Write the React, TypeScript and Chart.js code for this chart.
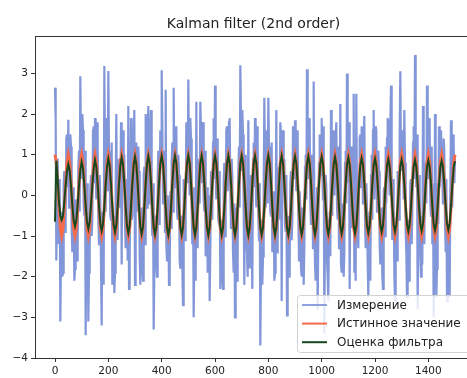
import React, { useEffect, useRef } from "react";
import { Chart, registerables } from "chart.js";

Chart.register(...registerables);

const TITLE = "Kalman filter (2nd order)";
const LEGEND_LABELS = ["Измерение", "Истинное значение", "Оценка фильтра"];
const X_TICKS = [0, 200, 400, 600, 800, 1000, 1200, 1400];
const Y_TICKS = [-4, -3, -2, -1, 0, 1, 2, 3];
const X_MIN = -75;
const X_MAX = 1545;
const Y_MIN = -4;
const Y_MAX = 3.92;
const MEAS_STEP = 2.5; // sample spacing of the measurement along x
const STEP = 5; // sample spacing of true value / estimate along x

// one row per period (50 x-units)
const MEASUREMENT = [
  2.65, 1.9, -1.6, 0.1, 0.9, -1.2, -0.6, 0.4, -3.1, -1.5, -0.4, -2.0, -1.9, 0.3, 0.6, -0.9, -0.5, 1.4, 1.5, 0.2,
  1.86, -0.3, 0.2, 1.5, 1.2, -0.8, -1.4, 0.2, -0.3, -2.1, -1.8, -0.1, -0.2, -1.6, -1.3, 0.7, 1.1, -0.4, 2.93, 1.2,
  0.4, 2.0, 1.6, -0.2, -0.5, 1.1, -3.44, -1.3, 0.3, -0.4, -3.1, -1.9, -1.4, 0.2, 0.5, -1.0, -0.6, 1.6, 1.7, 0.3,
  1.9, 0.6, -0.1, 1.8, 1.3, -0.6, -1.2, 0.5, -0.2, -1.7, -3.2, -0.4, -1.5, -2.2, 3.18, 1.0, -0.4, 1.9, 1.2, 0.1,
  3.06, 1.1, 0.4, -0.5, -0.6, 1.3, -2.2, -1.1, -0.5, -2.4, -1.9, 0.1, 2.0, -0.8, -1.1, 0.6, 0.9, -0.3, -0.2, 1.8,
  -1.7, 1.4, 1.6, 0.3, 1.0, -0.7, -1.3, 0.4, -0.2, -1.6, 2.2, -2.3, -1.6, 0.2, 1.9, -0.6, -0.5, 1.5, 1.4, 2.1,
  -2.2, 0.9, 1.3, -0.4, -0.4, 1.2, 0.6, -1.5, -2.2, -0.3, -1.1, -1.8, -2.1, 0.5, 0.7, -1.2, 2.0, 0.4, -0.3, 1.7,
  2.2, -0.2, 0.1, 1.6, 2.1, -0.5, -1.0, 0.3, -3.3, -1.9, -0.5, -0.6, -1.7, -2.0, 0.4, 1.1, -0.7, 0.2, 1.6, 1.2,
  3.08, 1.7, -0.2, 0.5, 1.1, -0.9, 2.6, -1.2, -1.6, 0.0, -0.3, -2.2, -2.0, 0.1, -0.8, 0.8, 1.3, -0.4, 2.65, 0.6,
  0.2, 1.5, 1.7, -0.4, -0.6, 1.0, 0.5, -1.6, -1.8, -0.5, -0.7, -1.7, -2.7, 0.4, 0.3, -1.1, -0.4, 1.8, 1.5, 0.3,
  2.85, 0.7, 0.0, 1.9, 1.4, -0.3, -1.2, 0.2, -3.0, -1.4, -0.4, -2.1, 2.3, -0.6, -1.3, 0.5, 0.9, -0.2, 2.3, 1.6,
  0.3, 1.6, 1.8, -0.1, -0.4, 1.1, -1.5, -0.8, 0.2, -1.9, -1.7, 0.0, -2.6, -1.3, 0.6, -0.5, -0.6, 1.3, 1.9, 0.4,
  2.7, 0.5, -0.1, 1.4, 1.2, -0.6, -0.7, 0.6, -2.3, -1.2, -0.6, -2.0, -2.3, 0.3, 0.8, -1.0, -0.2, 1.6, 1.7, 0.1,
  0.5, 1.8, 1.9, 0.2, -0.8, 0.9, 0.4, -1.4, -1.9, -0.2, -3.0, -1.6, -0.3, -2.1, -1.4, 0.6, 1.2, -0.3, 3.2, 1.9,
  0.6, 2.1, 1.5, -0.3, -2.2, 1.0, -0.2, -1.1, -1.4, -2.0, 1.85, -0.7, -1.8, 0.2, 0.5, -1.2, -2.3, 0.9, 1.3, 0.2,
  1.9, 0.4, -0.3, 1.7, 1.0, -0.5, -1.1, 0.3, -3.69, -1.6, -0.6, -2.2, -1.5, 0.1, 2.4, 0.9, -0.3, 1.2, 1.6, -0.2,
  2.4, 1.2, 0.6, -0.4, -0.5, 1.3, -1.4, -0.9, 0.1, -2.1, -1.9, -0.5, 2.1, -1.4, -1.2, 0.4, 0.7, -0.6, 1.8, 1.5,
  -2.6, 1.0, 1.6, 0.2, 0.9, -0.7, -0.9, 0.5, -2.95, -1.5, -0.5, -2.0, -1.8, 0.3, 0.6, -1.1, -0.6, 1.7, 1.3, 0.4,
  1.85, 0.8, 0.1, 1.6, 1.3, -0.4, -1.6, 0.1, -0.3, -1.8, -2.0, -0.3, -0.9, -2.2, -1.3, 0.7, 1.0, -0.1, 3.1, 1.4,
  0.4, 1.9, 1.7, -0.2, -0.7, 1.0, 0.3, -1.3, 2.8, -0.4, -1.7, -2.1, -0.6, 0.2, -2.8, -0.9, 0.8, 1.5, 1.4, 0.5,
  1.9, 0.6, -0.1, 1.7, -3.4, -0.8, 0.5, 0.2, -1.6, -2.0, -2.6, -0.6, -0.4, -1.5, 2.1, 0.4, -0.5, 1.3, 1.6, 0.0,
  0.6, 1.4, 1.8, -0.3, -0.6, 1.2, -1.3, -0.4, 2.25, -1.7, -1.9, -0.2, -0.5, -2.0, -1.4, 0.8, 1.1, -0.2, 3.0, 1.7,
  0.3, 1.8, -2.3, 0.4, 1.2, -0.5, -0.8, 0.6, 2.5, -1.9, -1.4, -2.1, 2.5, -0.4, -0.9, -1.3, 0.4, 1.4, 1.5, 0.2,
  1.7, 0.9, -0.2, 1.5, 1.95, -0.6, -1.3, 0.3, -0.4, -1.6, -2.5, -0.5, -1.2, -2.1, 0.5, 1.0, -0.6, 1.6, 2.1, -0.1,
  0.5, 1.7, 1.6, -0.4, -0.3, 1.1, 0.6, -1.2, -1.7, -0.3, -0.6, -2.0, -2.3, 0.1, 0.2, -1.0, 1.2, -0.2, 1.4, 1.9,
  1.8, 0.7, 0.0, 1.8, 2.7, -0.2, -1.1, 0.4, -0.2, -1.9, -2.6, -0.7, -1.1, -1.6, 0.6, -0.3, -0.6, 1.5, 3.05, 0.8,
  0.6, 1.6, 1.4, -0.1, 2.1, 0.8, -0.9, -1.4, -2.5, -0.6, -0.7, -2.1, -1.8, 0.3, 0.4, -1.2, -0.4, 1.3, 1.7, 0.4,
  3.45, 1.1, 0.2, 1.5, -2.8, -0.5, 0.5, 0.0, -1.5, -2.0, -0.5, -1.7, 2.2, -0.6, -1.2, 0.6, 0.8, -0.2, 2.7, 1.2,
  0.4, 1.9, 1.7, -0.2, -0.5, 1.2, -1.2, 0.3, -3.0, -1.4, 2.0, -0.9, -2.5, -1.8, 0.3, -0.7, 1.7, 0.2, 0.9, 1.6,
  1.6, 0.5, -0.2, 1.4, 1.1, -0.6, -1.4, 0.4, -2.6, -1.5, -0.8, -2.0, -2.5, 0.1, 1.85, 0.9, -0.3, 1.5, 1.3, 0.3,
  0.9,
];

const TRUE_VALUE = [
  1, 0.81, 0.31, -0.31, -0.81, -1, -0.81, -0.31, 0.31, 0.81,
  1, 0.81, 0.31, -0.31, -0.81, -1, -0.81, -0.31, 0.31, 0.81,
  1, 0.81, 0.31, -0.31, -0.81, -1, -0.81, -0.31, 0.31, 0.81,
  1, 0.81, 0.31, -0.31, -0.81, -1, -0.81, -0.31, 0.31, 0.81,
  1, 0.81, 0.31, -0.31, -0.81, -1, -0.81, -0.31, 0.31, 0.81,
  1, 0.81, 0.31, -0.31, -0.81, -1, -0.81, -0.31, 0.31, 0.81,
  1, 0.81, 0.31, -0.31, -0.81, -1, -0.81, -0.31, 0.31, 0.81,
  1, 0.81, 0.31, -0.31, -0.81, -1, -0.81, -0.31, 0.31, 0.81,
  1, 0.81, 0.31, -0.31, -0.81, -1, -0.81, -0.31, 0.31, 0.81,
  1, 0.81, 0.31, -0.31, -0.81, -1, -0.81, -0.31, 0.31, 0.81,
  1, 0.81, 0.31, -0.31, -0.81, -1, -0.81, -0.31, 0.31, 0.81,
  1, 0.81, 0.31, -0.31, -0.81, -1, -0.81, -0.31, 0.31, 0.81,
  1, 0.81, 0.31, -0.31, -0.81, -1, -0.81, -0.31, 0.31, 0.81,
  1, 0.81, 0.31, -0.31, -0.81, -1, -0.81, -0.31, 0.31, 0.81,
  1, 0.81, 0.31, -0.31, -0.81, -1, -0.81, -0.31, 0.31, 0.81,
  1, 0.81, 0.31, -0.31, -0.81, -1, -0.81, -0.31, 0.31, 0.81,
  1, 0.81, 0.31, -0.31, -0.81, -1, -0.81, -0.31, 0.31, 0.81,
  1, 0.81, 0.31, -0.31, -0.81, -1, -0.81, -0.31, 0.31, 0.81,
  1, 0.81, 0.31, -0.31, -0.81, -1, -0.81, -0.31, 0.31, 0.81,
  1, 0.81, 0.31, -0.31, -0.81, -1, -0.81, -0.31, 0.31, 0.81,
  1, 0.81, 0.31, -0.31, -0.81, -1, -0.81, -0.31, 0.31, 0.81,
  1, 0.81, 0.31, -0.31, -0.81, -1, -0.81, -0.31, 0.31, 0.81,
  1, 0.81, 0.31, -0.31, -0.81, -1, -0.81, -0.31, 0.31, 0.81,
  1, 0.81, 0.31, -0.31, -0.81, -1, -0.81, -0.31, 0.31, 0.81,
  1, 0.81, 0.31, -0.31, -0.81, -1, -0.81, -0.31, 0.31, 0.81,
  1, 0.81, 0.31, -0.31, -0.81, -1, -0.81, -0.31, 0.31, 0.81,
  1, 0.81, 0.31, -0.31, -0.81, -1, -0.81, -0.31, 0.31, 0.81,
  1, 0.81, 0.31, -0.31, -0.81, -1, -0.81, -0.31, 0.31, 0.81,
  1, 0.81, 0.31, -0.31, -0.81, -1, -0.81, -0.31, 0.31, 0.81,
  1, 0.81, 0.31, -0.31, -0.81, -1, -0.81, -0.31, 0.31, 0.81,
  1,
];

const ESTIMATE = [
  -0.65, 0.85, 0.4, -0.15, -0.5, -0.6, -0.5, -0.15, 0.25, 0.6,
  0.76, 0.62, 0.24, -0.24, -0.62, -0.76, -0.62, -0.24, 0.24, 0.62,
  0.82, 0.66, 0.25, -0.25, -0.66, -0.82, -0.66, -0.25, 0.25, 0.66,
  0.87, 0.7, 0.27, -0.27, -0.7, -0.87, -0.7, -0.27, 0.27, 0.7,
  0.9, 0.73, 0.28, -0.28, -0.73, -0.9, -0.73, -0.28, 0.28, 0.73,
  0.93, 0.75, 0.29, -0.29, -0.75, -0.93, -0.75, -0.29, 0.29, 0.75,
  0.95, 0.77, 0.29, -0.29, -0.77, -0.95, -0.77, -0.29, 0.29, 0.77,
  0.96, 0.78, 0.3, -0.3, -0.78, -0.96, -0.78, -0.3, 0.3, 0.78,
  0.97, 0.79, 0.3, -0.3, -0.79, -0.97, -0.79, -0.3, 0.3, 0.79,
  0.97, 0.79, 0.3, -0.3, -0.79, -0.97, -0.79, -0.3, 0.3, 0.79,
  0.98, 0.79, 0.3, -0.3, -0.79, -0.98, -0.79, -0.3, 0.3, 0.79,
  0.98, 0.79, 0.3, -0.3, -0.79, -0.98, -0.79, -0.3, 0.3, 0.79,
  0.97, 0.79, 0.3, -0.3, -0.79, -0.97, -0.79, -0.3, 0.3, 0.79,
  0.98, 0.79, 0.3, -0.3, -0.79, -0.98, -0.79, -0.3, 0.3, 0.79,
  0.98, 0.79, 0.3, -0.3, -0.79, -0.98, -0.79, -0.3, 0.3, 0.79,
  0.97, 0.79, 0.3, -0.3, -0.79, -0.97, -0.79, -0.3, 0.3, 0.79,
  0.98, 0.79, 0.3, -0.3, -0.79, -0.98, -0.79, -0.3, 0.3, 0.79,
  0.97, 0.79, 0.3, -0.3, -0.79, -0.97, -0.79, -0.3, 0.3, 0.79,
  0.96, 0.78, 0.3, -0.3, -0.78, -0.96, -0.78, -0.3, 0.3, 0.78,
  0.96, 0.78, 0.3, -0.3, -0.78, -0.96, -0.78, -0.3, 0.3, 0.78,
  0.95, 0.77, 0.29, -0.29, -0.77, -0.95, -0.77, -0.29, 0.29, 0.77,
  0.94, 0.76, 0.29, -0.29, -0.76, -0.94, -0.76, -0.29, 0.29, 0.76,
  0.93, 0.75, 0.29, -0.29, -0.75, -0.93, -0.75, -0.29, 0.29, 0.75,
  0.92, 0.75, 0.29, -0.29, -0.75, -0.92, -0.75, -0.29, 0.29, 0.75,
  0.9, 0.73, 0.28, -0.28, -0.73, -0.9, -0.73, -0.28, 0.28, 0.73,
  0.89, 0.72, 0.28, -0.28, -0.72, -0.89, -0.72, -0.28, 0.28, 0.72,
  0.88, 0.71, 0.27, -0.27, -0.71, -0.88, -0.71, -0.27, 0.27, 0.71,
  0.87, 0.7, 0.27, -0.27, -0.7, -0.87, -0.7, -0.27, 0.27, 0.7,
  0.86, 0.7, 0.27, -0.27, -0.7, -0.86, -0.7, -0.27, 0.27, 0.7,
  0.85, 0.69, 0.26, -0.26, -0.69, -0.85, -0.69, -0.26, 0.26, 0.69,
  0.84,
];

const COLOR_MEAS = "rgb(130,150,218)";
const COLOR_TRUE = "rgb(244,106,74)";
const COLOR_EST = "rgb(22,72,32)";
const FONT = '"DejaVu Sans", "Noto Sans", sans-serif';

const fmt = (v: number) => (v < 0 ? "\u2212" + Math.abs(v) : String(v));
const toPoints = (arr: number[], step: number) => arr.map((y, i) => ({ x: i * step, y }));

const framePlugin = {
  id: "frameTop",
  afterDatasetsDraw(chart: any) {
    const { ctx, chartArea } = chart;
    ctx.save();
    ctx.strokeStyle = "#333";
    ctx.lineWidth = 1;
    ctx.beginPath();
    ctx.moveTo(chartArea.left, Math.round(chartArea.top) + 0.5);
    ctx.lineTo(chartArea.right, Math.round(chartArea.top) + 0.5);
    ctx.stroke();
    ctx.restore();
  },
};

const titlePlugin = {
  id: "mplTitle",
  afterDraw(chart: any) {
    const { ctx } = chart;
    ctx.save();
    ctx.font = `14px ${FONT}`;
    ctx.fillStyle = "#222";
    ctx.textAlign = "center";
    ctx.textBaseline = "alphabetic";
    ctx.fillText(TITLE, 253.5, 27.5);
    ctx.restore();
  },
};

const legendPlugin = {
  id: "mplLegend",
  afterDraw(chart: any) {
    const { ctx } = chart;
    const x0 = 297.5, y0 = 295.5, w = 190, h = 57, r = 3;
    ctx.save();
    ctx.beginPath();
    ctx.moveTo(x0 + r, y0);
    ctx.lineTo(x0 + w - r, y0);
    ctx.quadraticCurveTo(x0 + w, y0, x0 + w, y0 + r);
    ctx.lineTo(x0 + w, y0 + h - r);
    ctx.quadraticCurveTo(x0 + w, y0 + h, x0 + w - r, y0 + h);
    ctx.lineTo(x0 + r, y0 + h);
    ctx.quadraticCurveTo(x0, y0 + h, x0, y0 + h - r);
    ctx.lineTo(x0, y0 + r);
    ctx.quadraticCurveTo(x0, y0, x0 + r, y0);
    ctx.closePath();
    ctx.fillStyle = "rgba(255,255,255,0.8)";
    ctx.fill();
    ctx.strokeStyle = "rgb(210,210,210)";
    ctx.lineWidth = 1;
    ctx.stroke();
    const colors = [COLOR_MEAS, COLOR_TRUE, COLOR_EST];
    const widths = [1.8, 2, 2];
    ctx.font = `12px ${FONT}`;
    ctx.textBaseline = "middle";
    ctx.textAlign = "left";
    LEGEND_LABELS.forEach((label, i) => {
      const y = 305 + i * 18.6;
      ctx.strokeStyle = colors[i];
      ctx.lineWidth = widths[i];
      ctx.beginPath();
      ctx.moveTo(302, y);
      ctx.lineTo(327, y);
      ctx.stroke();
      ctx.fillStyle = "#222";
      ctx.fillText(label, 337, y + 0.5);
    });
    ctx.restore();
  },
};

export default function App() {
  const ref = useRef<HTMLCanvasElement | null>(null);

  useEffect(() => {
    if (!ref.current) return;
    const axisCommon = {
      grid: {
        display: true,
        drawOnChartArea: false,
        drawTicks: true,
        tickLength: 4,
        color: "#333",
        tickWidth: 1,
      },
      border: { display: true, color: "#333", width: 1 },
    };
    const chart = new Chart(ref.current, {
      type: "line",
      data: {
        datasets: [
          {
            label: LEGEND_LABELS[0],
            data: toPoints(MEASUREMENT, MEAS_STEP),
            borderColor: COLOR_MEAS,
            borderWidth: 2.2,
            pointRadius: 0,
            tension: 0,
            order: 3,
          },
          {
            label: LEGEND_LABELS[1],
            data: toPoints(TRUE_VALUE, STEP),
            borderColor: COLOR_TRUE,
            borderWidth: 3,
            pointRadius: 0,
            tension: 0,
            order: 2,
          },
          {
            label: LEGEND_LABELS[2],
            data: toPoints(ESTIMATE, STEP),
            borderColor: COLOR_EST,
            borderWidth: 2,
            pointRadius: 0,
            tension: 0,
            order: 1,
          },
        ],
      },
      options: {
        animation: false,
        responsive: false,
        devicePixelRatio: 1,
        events: [],
        layout: { padding: { top: 36, left: 0, right: 0, bottom: 0 } },
        plugins: {
          legend: { display: false },
          title: { display: false },
          tooltip: { enabled: false },
        },
        scales: {
          x: {
            type: "linear",
            min: X_MIN,
            max: X_MAX,
            ...axisCommon,
            afterBuildTicks: (s: any) => {
              s.ticks = X_TICKS.map((v) => ({ value: v }));
            },
            afterFit: (s: any) => {
              s.height = 20;
            },
            ticks: {
              font: { family: FONT, size: 10.5 },
              color: "#222",
              padding: 3,
              maxRotation: 0,
              autoSkip: false,
              callback: (v: any) => fmt(Number(v)),
            },
          },
          y: {
            type: "linear",
            min: Y_MIN,
            max: Y_MAX,
            ...axisCommon,
            afterBuildTicks: (s: any) => {
              s.ticks = Y_TICKS.map((v) => ({ value: v }));
            },
            afterFit: (s: any) => {
              s.width = 35;
            },
            ticks: {
              font: { family: FONT, size: 10.5 },
              color: "#222",
              padding: 3,
              autoSkip: false,
              callback: (v: any) => fmt(Number(v)),
            },
          },
        },
      },
      plugins: [framePlugin, titlePlugin, legendPlugin],
    } as any);
    return () => chart.destroy();
  }, []);

  return (
    <div style={{ position: "fixed", left: 0, top: 0, width: 467, height: 378, background: "#fff" }}>
      <canvas ref={ref} width={467} height={378} style={{ display: "block", width: 467, height: 378 }} />
    </div>
  );
}
